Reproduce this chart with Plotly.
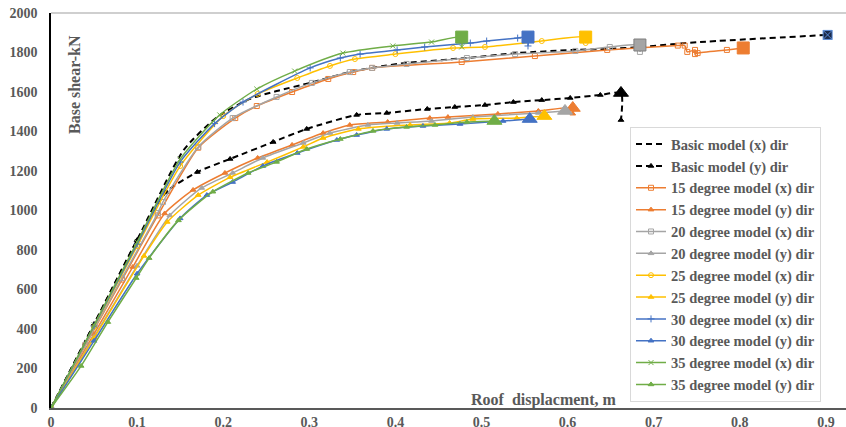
import plotly.graph_objects as go

# ---------------- data ----------------
X_TICKS = [0, 0.1, 0.2, 0.3, 0.4, 0.5, 0.6, 0.7, 0.8, 0.9]
X_TICK_LABELS = ["0", "0.1", "0.2", "0.3", "0.4", "0.5", "0.6", "0.7", "0.8", "0.9"]
Y_TICKS = [0, 200, 400, 600, 800, 1000, 1200, 1400, 1600, 1800, 2000]

basic_x_d = [0, 0.05, 0.10, 0.154, 0.193, 0.231, 0.262, 0.301, 0.347, 0.386, 0.413, 0.483, 0.541, 0.606, 0.649, 0.684, 0.754, 0.902]
basic_x_v = [0, 425, 850, 1306, 1473, 1565, 1605, 1646, 1701, 1732, 1747, 1772, 1797, 1813, 1818, 1828, 1853, 1889]

basic_y_d = [0, 0.05, 0.10, 0.134, 0.17, 0.208, 0.258, 0.297, 0.355, 0.39, 0.437, 0.469, 0.504, 0.537, 0.570, 0.603, 0.638, 0.662, 0.662]
basic_y_v = [0, 425, 850, 1094, 1195, 1261, 1347, 1413, 1484, 1494, 1514, 1524, 1534, 1549, 1559, 1570, 1585, 1595, 1458]

deg15_x_d = [0, 0.04, 0.0825, 0.124, 0.171, 0.214, 0.239, 0.28, 0.322, 0.351, 0.373, 0.477, 0.562, 0.646, 0.728, 0.736, 0.739, 0.748, 0.748, 0.751, 0.785, 0.804]
deg15_x_v = [0, 318, 650, 975, 1318, 1468, 1529, 1600, 1666, 1701, 1722, 1752, 1782, 1813, 1835, 1835, 1803, 1813, 1792, 1797, 1813, 1823]

deg15_y_d = [0, 0.05, 0.095, 0.132, 0.165, 0.202, 0.240, 0.280, 0.316, 0.347, 0.391, 0.440, 0.461, 0.519, 0.566, 0.606, 0.606]
deg15_y_v = [0, 375, 714, 985, 1104, 1190, 1266, 1332, 1392, 1433, 1448, 1468, 1473, 1489, 1504, 1519, 1490]

deg20_x_d = [0, 0.04, 0.0825, 0.124, 0.130, 0.171, 0.211, 0.262, 0.303, 0.347, 0.373, 0.413, 0.483, 0.539, 0.609, 0.649, 0.684, 0.684]
deg20_x_v = [0, 320, 658, 987, 1043, 1322, 1468, 1575, 1646, 1701, 1722, 1742, 1772, 1792, 1808, 1828, 1838, 1803]

deg20_y_d = [0, 0.05, 0.10, 0.138, 0.175, 0.211, 0.246, 0.293, 0.324, 0.368, 0.402, 0.442, 0.490, 0.566, 0.597]
deg20_y_v = [0, 360, 720, 975, 1114, 1190, 1266, 1342, 1392, 1433, 1443, 1453, 1473, 1494, 1504]

deg25_x_d = [0, 0.05, 0.10, 0.15, 0.200, 0.240, 0.286, 0.324, 0.353, 0.400, 0.467, 0.504, 0.570, 0.621, 0.621]
deg25_x_v = [0, 410, 820, 1225, 1478, 1590, 1671, 1732, 1767, 1792, 1823, 1828, 1858, 1878, 1848]

deg25_y_d = [0, 0.05, 0.108, 0.135, 0.171, 0.208, 0.251, 0.293, 0.316, 0.357, 0.417, 0.463, 0.490, 0.541, 0.573]
deg25_y_v = [0, 355, 770, 942, 1078, 1168, 1245, 1322, 1367, 1413, 1433, 1443, 1463, 1468, 1478]

deg30_x_d = [0, 0.05, 0.10, 0.15, 0.19, 0.223, 0.301, 0.336, 0.359, 0.402, 0.434, 0.487, 0.506, 0.542, 0.554, 0.554]
deg30_x_v = [0, 415, 830, 1245, 1440, 1549, 1722, 1772, 1792, 1813, 1828, 1848, 1858, 1873, 1878, 1833]

deg30_y_d = [0, 0.05, 0.10, 0.150, 0.181, 0.211, 0.246, 0.286, 0.332, 0.355, 0.390, 0.432, 0.475, 0.525, 0.556]
deg30_y_v = [0, 340, 680, 960, 1078, 1144, 1225, 1291, 1357, 1382, 1413, 1428, 1438, 1453, 1463]

deg35_x_d = [0, 0.05, 0.10, 0.15, 0.196, 0.239, 0.283, 0.339, 0.397, 0.442, 0.477, 0.477]
deg35_x_v = [0, 420, 840, 1260, 1484, 1615, 1706, 1797, 1833, 1853, 1878, 1828]

deg35_y_d = [0, 0.035, 0.066, 0.099, 0.114, 0.148, 0.188, 0.229, 0.262, 0.297, 0.336, 0.374, 0.413, 0.446, 0.483, 0.515]
deg35_y_v = [0, 213, 435, 658, 759, 950, 1095, 1190, 1246, 1311, 1362, 1403, 1423, 1433, 1448, 1453]

SERIES_NAMES = [
    "Basic model (x) dir", "Basic model (y) dir",
    "15 degree model (x) dir", "15 degree model (y) dir",
    "20 degree model (x) dir", "20 degree model (y) dir",
    "25 degree model (x) dir", "25 degree model (y) dir",
    "30 degree model (x) dir", "30 degree model (y) dir",
    "35 degree model (x) dir", "35 degree model (y) dir",
]
SERIES_DATA = [
    (basic_x_d, basic_x_v), (basic_y_d, basic_y_v),
    (deg15_x_d, deg15_x_v), (deg15_y_d, deg15_y_v),
    (deg20_x_d, deg20_x_v), (deg20_y_d, deg20_y_v),
    (deg25_x_d, deg25_x_v), (deg25_y_d, deg25_y_v),
    (deg30_x_d, deg30_x_v), (deg30_y_d, deg30_y_v),
    (deg35_x_d, deg35_x_v), (deg35_y_d, deg35_y_v),
]
# index of the point that carries the large end marker in each series
END_POINT_INDEX = [-1, -2, -1, -2, -2, -1, -2, -1, -2, -1, -2, -1]

# ---------------- styles ----------------
ORANGE, GRAY, YELLOW, BLUE, GREEN = "#ED7D31", "#A5A5A5", "#FFC000", "#4472C4", "#70AD47"
STYLES = [
    # color, dash, small symbol, end symbol, end color, end line color
    ("#000000", "6px,4px", None, "square-x", "#1b2a4a", "#5b8bd6"),
    ("#000000", "6px,4px", "triangle-up", "triangle-up", "#000000", "#000000"),
    (ORANGE, "solid", "square-open", "square", ORANGE, ORANGE),
    (ORANGE, "solid", "triangle-up", "triangle-up", ORANGE, ORANGE),
    (GRAY, "solid", "square-open", "square", GRAY, "#7f7f7f"),
    (GRAY, "solid", "triangle-up", "triangle-up", GRAY, GRAY),
    (YELLOW, "solid", "circle-open", "square", YELLOW, YELLOW),
    (YELLOW, "solid", "triangle-up", "triangle-up", YELLOW, YELLOW),
    (BLUE, "solid", "cross-thin-open", "square", BLUE, BLUE),
    (BLUE, "solid", "triangle-up", "triangle-up", BLUE, BLUE),
    (GREEN, "solid", "x-thin-open", "square", GREEN, GREEN),
    (GREEN, "solid", "triangle-up", "triangle-up", GREEN, GREEN),
]

FONT = "Liberation Serif, Times New Roman, serif"
TXT = "#595959"

fig = go.Figure()
for name, (xd, yd), (col, dash, sym, esym, ecol, elc) in zip(SERIES_NAMES, SERIES_DATA, STYLES):
    if sym is None:
        mode = "lines"
        marker = dict()
    else:
        mode = "lines+markers"
        marker = dict(symbol=sym, size=5, color=col, line=dict(color=col, width=1))
    fig.add_trace(go.Scatter(
        x=xd, y=yd, name=name, mode=mode,
        line=dict(color=col, width=1.5 if dash == "solid" else 2, dash=dash,
                  shape="spline", smoothing=0.6),
        marker=marker,
    ))
for (xd, yd), (col, dash, sym, esym, ecol, elc), k in zip(SERIES_DATA, STYLES, END_POINT_INDEX):
    size = 13 if "triangle" in esym else 12
    if esym == "square-x":
        size = 9
    fig.add_trace(go.Scatter(
        x=[xd[k]], y=[yd[k]], mode="markers", showlegend=False, hoverinfo="skip",
        marker=dict(symbol=esym, size=size, color=ecol, line=dict(color=elc, width=1)),
    ))

x_max = (846 - 51) / 861.0

fig.update_layout(
    width=846, height=427,
    margin=dict(l=51, r=0, t=13, b=19, autoexpand=False),
    paper_bgcolor="white", plot_bgcolor="white",
    font=dict(family=FONT, size=14, color=TXT),
    showlegend=True,
    legend=dict(
        x=(630 - 51) / 795.0, y=0.711, xanchor="left", yanchor="top",
        bgcolor="white", bordercolor="#d9d9d9", borderwidth=1,
        font=dict(family=FONT, size=14.5, color=TXT, weight="bold"),
        tracegroupgap=0, itemwidth=30,
    ),
    xaxis=dict(
        range=[0, x_max], showgrid=False, zeroline=False, automargin=False,
        showline=True, linecolor="#595959", linewidth=1.5,
        tickvals=X_TICKS, ticktext=X_TICK_LABELS, ticks="",
        tickfont=dict(family=FONT, size=14, color=TXT, weight="bold"),
        ticklabelstandoff=0,
    ),
    yaxis=dict(
        range=[0, 2000], showgrid=False, zeroline=False, automargin=False,
        showline=True, linecolor="#000000", linewidth=1.5,
        tickvals=Y_TICKS, ticks="",
        tickfont=dict(family=FONT, size=14, color=TXT, weight="bold"),
        ticklabelstandoff=9,
    ),
    shapes=[dict(type="line", xref="paper", yref="paper", x0=0, x1=1, y0=1, y1=1,
                 line=dict(color="#bfbfbf", width=1.5))],
    annotations=[
        dict(text="<b>Base shear-kN</b>", xref="paper", yref="paper",
             x=(75 - 51) / 795.0, y=(408 - 85) / 395.0, textangle=-90,
             showarrow=False, font=dict(family=FONT, size=16, color=TXT),
             xanchor="center", yanchor="middle"),
        dict(text="<b>Roof  displacment, m</b>", xref="paper", yref="paper",
             x=(544 - 51) / 795.0, y=(408 - 400) / 395.0,
             showarrow=False, font=dict(family=FONT, size=16, color=TXT),
             xanchor="center", yanchor="middle"),
    ],
)

fig.write_html("out.html")
